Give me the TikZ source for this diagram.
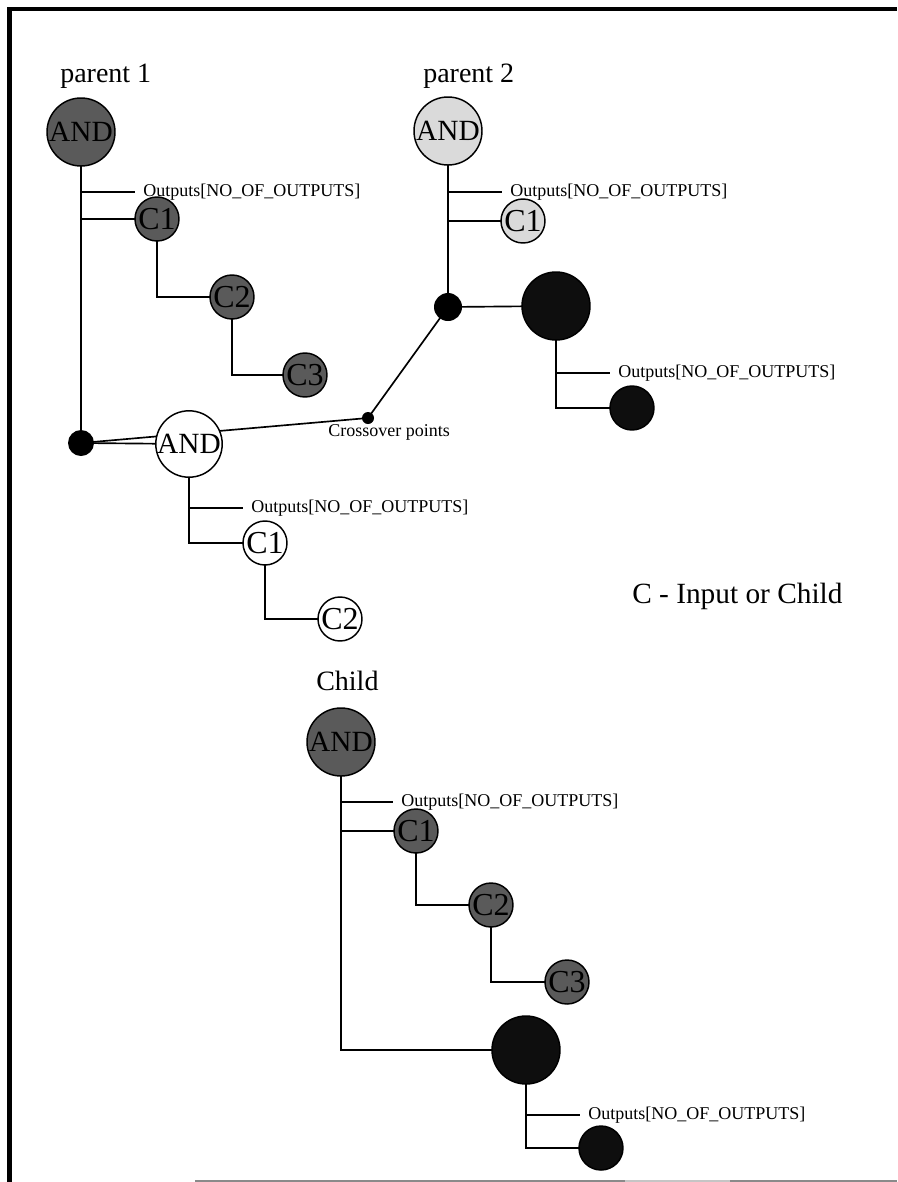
\documentclass[tikz,border=0pt]{standalone}
\usepackage{fontspec}
\setmainfont{Liberation Serif}
\usetikzlibrary{backgrounds}
\definecolor{nodegray}{HTML}{5A5A5A}
\definecolor{lightnode}{HTML}{DADADA}
\definecolor{inkblack}{HTML}{0E0E0E}
\definecolor{edgegray}{HTML}{8A8A8A}
\begin{document}
\begin{tikzpicture}[x=0.75pt,y=-0.75pt,
  link/.style={draw=black,line width=1.25pt},
  gene/.style={circle,draw=black,line width=1.1pt,inner sep=0pt,text=black},
  biggene/.style={gene,minimum size=51pt,font=\fontsize{22}{22}\selectfont},
  smallgene/.style={gene,minimum size=33pt,font=\fontsize{24}{24}\selectfont},
  darkfill/.style={fill=nodegray},
  palefill/.style={fill=lightnode},
  whitefill/.style={fill=white},
  blackfill/.style={fill=inkblack},
  joint/.style={circle,fill=black,inner sep=0pt,minimum size=#1},
  outlabel/.style={anchor=west,inner xsep=6pt,inner ysep=0pt,font=\fontsize{13.5}{14}\selectfont},
  title/.style={anchor=base west,inner sep=0pt,font=\fontsize{21}{21}\selectfont}
]
\useasboundingbox (0,0) rectangle (897,1182);

% frame
\draw[line width=3pt] (8,8.5) -- (897,8.5);
\draw[line width=3.6pt] (9.5,7) -- (9.5,1182);
\draw[edgegray,line width=1.5pt] (195,1181) -- (625,1181);
\draw[edgegray!50,line width=1.5pt] (625,1181) -- (730,1181);
\draw[edgegray,line width=1.5pt] (730,1181) -- (897,1181);

% parent 1
\node[title] (t1) at (60,82) {parent 1};
\node[biggene,darkfill] (p1and) at (81,132) {AND};
\node[outlabel] (p1out) at (135,192) {Outputs[NO\_OF\_OUTPUTS]};
\node[smallgene,darkfill] (p1c1) at (157,219) {C1};
\node[smallgene,darkfill] (p1c2) at (232,297) {C2};
\node[smallgene,darkfill] (p1c3) at (305,375) {C3};
\node[joint=19.5pt] (p1x) at (81,443) {};

% parent 2
\node[title] (t2) at (423,82) {parent 2};
\node[biggene,palefill] (p2and) at (448,131) {AND};
\node[outlabel] (p2out) at (502,192) {Outputs[NO\_OF\_OUTPUTS]};
\node[smallgene,palefill] (p2c1) at (523,221) {C1};
\node[joint=21pt] (p2x) at (448,307) {};
\node[biggene,blackfill] (p2big) at (556,306) {};
\node[outlabel] (p2bout) at (610,373) {Outputs[NO\_OF\_OUTPUTS]};
\node[smallgene,blackfill] (p2small) at (632,408) {};

% crossover
\node[joint=9pt] (cx) at (368,418) {};
\node[anchor=base west,inner sep=0pt,font=\fontsize{13.5}{14}\selectfont] (cxl) at (328,436) {Crossover points};
\node[biggene,whitefill,minimum size=48pt] (chand) at (189,444) {AND};
\node[outlabel] (chout) at (243,508) {Outputs[NO\_OF\_OUTPUTS]};
\node[smallgene,whitefill] (chc1) at (265,543) {C1};
\node[smallgene,whitefill] (chc2) at (340,619) {C2};

% legend
\node[title,font=\fontsize{22}{22}\selectfont] (legend) at (632,603) {C - Input or Child};

% child
\node[title] (t3) at (316,690) {Child};
\node[biggene,darkfill] (kand) at (341,742) {AND};
\node[outlabel] (kout) at (393,802) {Outputs[NO\_OF\_OUTPUTS]};
\node[smallgene,darkfill] (kc1) at (416,831) {C1};
\node[smallgene,darkfill] (kc2) at (491,905) {C2};
\node[smallgene,darkfill] (kc3) at (567,982) {C3};
\node[biggene,blackfill] (kbig) at (526,1050) {};
\node[outlabel] (kbout) at (580,1115) {Outputs[NO\_OF\_OUTPUTS]};
\node[smallgene,blackfill] (ksmall) at (601,1148) {};

\begin{pgfonlayer}{background}
  % parent 1 tree
  \draw[link] (p1and.center) -- (p1x.center);
  \draw[link] (p1and |- p1out.west) -- (p1out.west);
  \draw[link] (p1and.center) |- (p1c1.center);
  \draw[link] (p1c1.center) |- (p1c2.center);
  \draw[link] (p1c2.center) |- (p1c3.center);
  % crossover lines
  \draw[link] (p1x.center) -- (chand.center);
  \draw[link] (p1x.center) -- (cx.center);
  \draw[link] (cx.center) -- (p2x.center);
  % parent 2 tree
  \draw[link] (p2and.center) -- (p2x.center);
  \draw[link] (p2and |- p2out.west) -- (p2out.west);
  \draw[link] (p2and.center) |- (p2c1.center);
  \draw[link] (p2x.center) -- (p2big.center);
  \draw[link] (p2big |- p2bout.west) -- (p2bout.west);
  \draw[link] (p2big.center) |- (p2small.center);
  % swapped subtree
  \draw[link] (chand |- chout.west) -- (chout.west);
  \draw[link] (chand.center) |- (chc1.center);
  \draw[link] (chc1.center) |- (chc2.center);
  % child tree
  \draw[link] (kand |- kout.west) -- (kout.west);
  \draw[link] (kand.center) |- (kc1.center);
  \draw[link] (kc1.center) |- (kc2.center);
  \draw[link] (kc2.center) |- (kc3.center);
  \draw[link] (kand.center) |- (kbig.center);
  \draw[link] (kbig |- kbout.west) -- (kbout.west);
  \draw[link] (kbig.center) |- (ksmall.center);
\end{pgfonlayer}
\end{tikzpicture}
\end{document}
